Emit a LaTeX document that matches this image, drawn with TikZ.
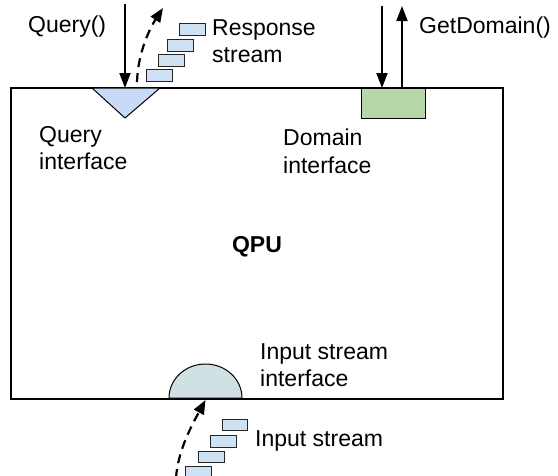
\documentclass[tikz,border=0pt]{standalone}
\usepackage{fontspec}
\setmainfont{Liberation Sans}
\usetikzlibrary{arrows.meta}
\definecolor{qblue}{HTML}{C9DAF8}
\definecolor{pblue}{HTML}{CFE2F3}
\definecolor{dgreen}{HTML}{B6D7A8}
\definecolor{sgray}{HTML}{D0E0E3}
\tikzset{
  lbl/.style={anchor=base west, inner sep=0pt, font=\fontsize{23}{27}\selectfont},
  boldlbl/.style={anchor=base, inner sep=0pt, font=\fontsize{23}{27}\selectfont\bfseries},
  solidarrow/.style={line width=2pt, -{Triangle[length=15pt,width=11pt]}},
  dasharrow/.style={line width=2.2pt, dash pattern=on 9pt off 6pt, -{Triangle[length=14pt,width=11pt]}},
  packet/.style={draw=black!85, line width=1pt, fill=pblue},
  iface/.style={draw=black, line width=1pt},
}
\begin{document}
\begin{tikzpicture}[x=1pt,y=-1pt]
\useasboundingbox (0,0) rectangle (558,475);
% main QPU box
\draw[line width=2.2pt] (11,88) rectangle (503,399);
% query interface (triangle)
\draw[iface, fill=qblue] (92,88) -- (160,88) -- (125,118) -- cycle;
\coordinate (qtop) at (125,88);
% domain interface
\draw[iface, fill=dgreen] (361,88) rectangle (425,118);
\coordinate (ddown) at (382,88);
\coordinate (dup) at (402,88);
% input stream interface (half ellipse)
\draw[iface, fill=sgray] (169,398) .. controls (169,379.2) and (185.3,364) .. (205.5,364)
   .. controls (225.7,364) and (242,379.2) .. (242,398) -- cycle;
\coordinate (itop) at (205.5,400);

% connectors
\coordinate (qsrc) at (125,4);
\draw[solidarrow] (qsrc) -- (qtop);
\coordinate (dsrc) at (382,6);
\coordinate (ddst) at (402,6);
\draw[solidarrow] (dsrc) -- (ddown);
\draw[solidarrow] (dup) -- (ddst);
\coordinate (rstart) at (137,82);
\coordinate (rend) at (163,8);
\draw[dasharrow] (rstart) .. controls (138,52) and (150,28) .. (rend);
\coordinate (istart) at (176,478);
\draw[dasharrow] (istart) .. controls (178,450) and (192,425) .. (itop);

% response packets
\draw[packet] (146,69) rectangle (172,81);
\draw[packet] (158,54) rectangle (184,66);
\draw[packet] (167,39) rectangle (193,51);
\draw[packet] (179,23) rectangle (205,35);
% input packets
\draw[packet] (222,419) rectangle (247,430);
\draw[packet] (210,435) rectangle (236,447);
\draw[packet] (198,451) rectangle (224,462);
\draw[packet] (185,466) rectangle (211,477);

% labels
\node[lbl] (lq) at (28,32) {Query()};
\node[lbl] (lr1) at (212,35) {Response};
\node[lbl] (lr2) at (212,62) {stream};
\node[lbl] (lg) at (419,33) {GetDomain()};
\node[lbl] (lqi1) at (39,142) {Query};
\node[lbl] (lqi2) at (39,169) {interface};
\node[lbl] (ldi1) at (283,145) {Domain};
\node[lbl] (ldi2) at (283,173) {interface};
\node[boldlbl] (lqpu) at (257,252) {QPU};
\node[lbl] (lis1) at (260,359) {Input stream};
\node[lbl] (lis2) at (260,386) {interface};
\node[lbl] (lin) at (255,446) {Input stream};
\end{tikzpicture}
\end{document}
